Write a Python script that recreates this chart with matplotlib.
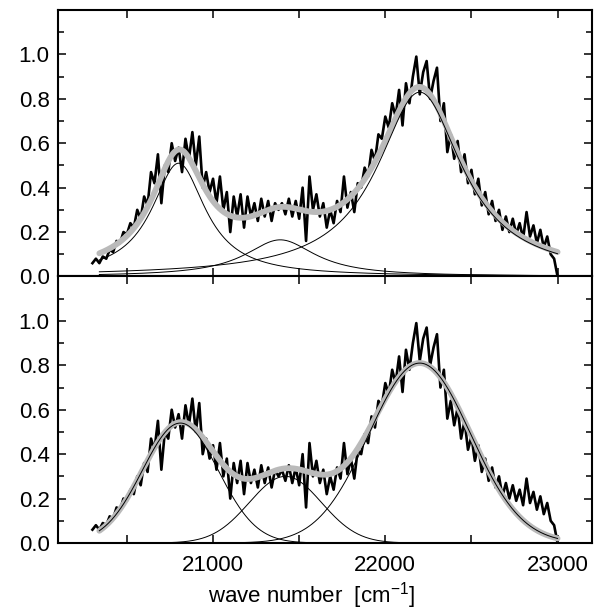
import numpy as np
import matplotlib
matplotlib.use("Agg")
import matplotlib.pyplot as plt
from matplotlib.ticker import MultipleLocator, FixedLocator

plt.rcParams['font.family'] = ['Liberation Sans', 'DejaVu Sans']
plt.rcParams['mathtext.fontset'] = 'custom'
plt.rcParams['mathtext.rm'] = 'Liberation Sans'
plt.rcParams['mathtext.it'] = 'Liberation Sans'

# measured spectrum, sampled every 20 cm^-1 starting at 20300
spec_start = 20300
spec_step = 20
spectrum = [
    0.06, 0.08, 0.06, 0.09, 0.08, 0.12, 0.11, 0.16, 0.15, 0.20,
    0.19, 0.24, 0.22, 0.30, 0.26, 0.36, 0.32, 0.47, 0.42, 0.55,
    0.33, 0.50, 0.47, 0.60, 0.52, 0.58, 0.47, 0.62, 0.53, 0.65,
    0.50, 0.63, 0.40, 0.47, 0.38, 0.44, 0.33, 0.45, 0.30, 0.38,
    0.20, 0.36, 0.27, 0.37, 0.22, 0.36, 0.27, 0.33, 0.25, 0.35,
    0.27, 0.34, 0.25, 0.33, 0.30, 0.33, 0.28, 0.35, 0.27, 0.34,
    0.26, 0.40, 0.16, 0.45, 0.30, 0.37, 0.27, 0.33, 0.22, 0.30,
    0.24, 0.34, 0.29, 0.45, 0.31, 0.38, 0.29, 0.42, 0.40, 0.49,
    0.45, 0.57, 0.52, 0.64, 0.62, 0.72, 0.67, 0.78, 0.72, 0.84,
    0.68, 0.87, 0.78, 0.90, 0.99, 0.82, 0.92, 0.97, 0.80, 0.88,
    0.94, 0.70, 0.78, 0.56, 0.64, 0.53, 0.61, 0.47, 0.55, 0.42,
    0.48, 0.37, 0.44, 0.32, 0.38, 0.28, 0.34, 0.25, 0.30, 0.21,
    0.27, 0.20, 0.26, 0.19, 0.24, 0.17, 0.29, 0.18, 0.23, 0.15,
    0.21, 0.13, 0.18, 0.10, 0.08, 0.00,
]

# fitted bands (center, height, width)
fit_range = (20340, 23000)
lor_centers = [20800, 21390, 22200]
lor_heights = [0.51, 0.165, 0.83]
lor_hwhm = [190, 250, 300]

gau_centers = [20810, 21420, 22200]
gau_heights = [0.54, 0.30, 0.81]
gau_sigma = [220, 210, 295]


def lorentz(x, c, h, w):
    return h / (1 + ((x - c) / w) ** 2)


def gauss(x, c, h, s):
    return h * np.exp(-(x - c) ** 2 / (2 * s ** 2))


xs = spec_start + spec_step * np.arange(len(spectrum))
xf = np.linspace(fit_range[0], fit_range[1], 600)

fig = plt.figure(figsize=(5.98, 6.11), dpi=100)
ax1 = fig.add_axes([0.097, 0.5475, 0.893, 0.4362])
ax2 = fig.add_axes([0.097, 0.1113, 0.893, 0.4362])

panels = [
    (ax1, lorentz, lor_centers, lor_heights, lor_hwhm),
    (ax2, gauss, gau_centers, gau_heights, gau_sigma),
]

for ax, func, cs, hs, ws in panels:
    ax.plot(xs, spectrum, color='black', lw=1.9, zorder=2)
    comps = [func(xf, c, h, w) for c, h, w in zip(cs, hs, ws)]
    ax.plot(xf, np.sum(comps, axis=0), color='#bababa', lw=4.2,
            solid_capstyle='round', zorder=3)
    for comp in comps:
        ax.plot(xf, comp, color='black', lw=0.7, zorder=4)

    ax.set_xlim(20100, 23200)
    ax.set_ylim(0, 1.2)
    ax.yaxis.set_major_locator(FixedLocator([0, 0.2, 0.4, 0.6, 0.8, 1.0]))
    ax.yaxis.set_minor_locator(MultipleLocator(0.1))
    ax.xaxis.set_major_locator(FixedLocator([21000, 22000, 23000]))
    ax.xaxis.set_minor_locator(FixedLocator([20500, 21500, 22500]))
    ax.tick_params(which='both', direction='in', top=True, right=True,
                   width=1.1, labelsize=16)
    ax.tick_params(which='major', length=6)
    ax.tick_params(which='minor', length=4)
    ax.tick_params(axis='x', which='both', length=6, pad=9)
    ax.tick_params(axis='y', pad=6)
    ax.yaxis.set_major_formatter(plt.FuncFormatter(lambda v, p: f"{v:.1f}"))
    for sp in ax.spines.values():
        sp.set_linewidth(1.5)

ax1.tick_params(labelbottom=False)
fig.text(311 / 598, 1 - 596 / 611, "wave number  [cm$^{-1}$]", fontsize=16,
         ha='center', va='center')

fig.savefig("out.png", dpi=100)
